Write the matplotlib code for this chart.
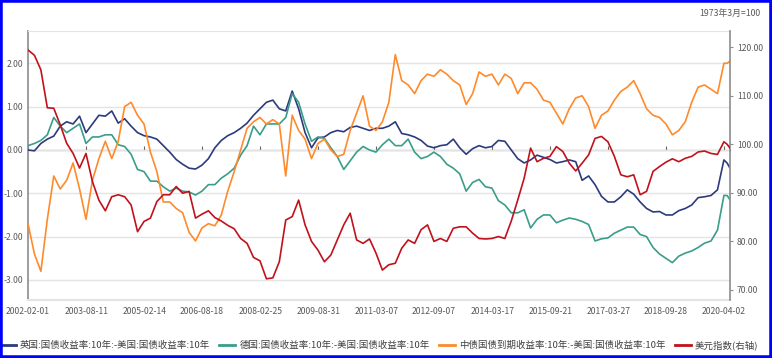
import matplotlib
matplotlib.use('Agg')
import matplotlib.pyplot as plt
from matplotlib.patches import Rectangle
from matplotlib.ticker import FormatStrFormatter
import pandas as pd

plt.rcParams['font.family'] = ['Noto Sans CJK SC', 'DejaVu Sans']
plt.rcParams['axes.unicode_minus'] = False

# ---------------- data ----------------
dates = list(pd.date_range('2002-02-01', '2020-04-01', periods=109)) + \
    [pd.Timestamp('2020-05-01'), pd.Timestamp('2020-05-29')]

uk_us = [0.0, -0.02, 0.15, 0.25, 0.32, 0.55, 0.65, 0.6, 0.78, 0.4, 0.6, 0.8, 0.78, 0.9, 0.62, 0.72, 0.55, 0.4, 0.33,
         0.3, 0.25, 0.1, -0.05, -0.22, -0.33, -0.42, -0.44, -0.35, -0.2, 0.05, 0.22, 0.33, 0.4, 0.5, 0.62, 0.8, 0.95,
         1.1, 1.15, 0.95, 0.9, 1.36, 0.95, 0.4, 0.05, 0.28, 0.3, 0.4, 0.45, 0.42, 0.52, 0.55, 0.5, 0.45, 0.5,
         0.5, 0.55, 0.65, 0.38, 0.35, 0.3, 0.22, 0.09, 0.05, 0.1, 0.12, 0.25, 0.05, -0.1, 0.03, 0.1, 0.05, 0.08,
         0.22, 0.2, 0.0, -0.2, -0.3, -0.23, -0.12, -0.17, -0.22, -0.3, -0.27, -0.23, -0.27, -0.7, -0.6, -0.8, -1.07, -1.2,
         -1.2, -1.08, -0.92, -1.02, -1.2, -1.35, -1.43, -1.42, -1.5, -1.5, -1.4, -1.35, -1.27, -1.1, -1.08, -1.05, -0.92,
         -0.23, -0.3, -0.42]

de_us = [0.1, 0.15, 0.22, 0.35, 0.75, 0.55, 0.4, 0.5, 0.6, 0.15, 0.3, 0.3, 0.35, 0.35, 0.12, 0.08, -0.1, -0.45, -0.5,
         -0.72, -0.72, -0.85, -0.95, -0.88, -0.95, -0.97, -1.04, -0.95, -0.8, -0.8, -0.65, -0.55, -0.42, -0.12, 0.1, 0.55, 0.35,
         0.6, 0.6, 0.6, 0.75, 1.3, 1.1, 0.6, 0.2, 0.3, 0.27, 0.05, -0.15, -0.45, -0.25, -0.05, 0.08, 0.0, -0.05,
         0.12, 0.25, 0.1, 0.1, 0.25, -0.05, -0.2, -0.15, -0.05, -0.15, -0.33, -0.42, -0.55, -0.95, -0.75, -0.68, -0.85, -0.88,
         -1.17, -1.27, -1.45, -1.45, -1.38, -1.8, -1.6, -1.5, -1.5, -1.68, -1.62, -1.57, -1.6, -1.65, -1.72, -2.1, -2.05, -2.03,
         -1.92, -1.85, -1.78, -1.78, -1.95, -2.0, -2.25, -2.4, -2.5, -2.6, -2.45, -2.38, -2.33, -2.25, -2.15, -2.1, -1.85,
         -1.05, -1.05, -1.15]

cn_us = [-1.7, -2.4, -2.8, -1.6, -0.6, -0.9, -0.7, -0.3, -0.9, -1.6, -0.7, -0.2, 0.2, -0.2, 0.2, 1.0, 1.1, 0.8, 0.6,
         -0.05, -0.5, -1.2, -1.2, -1.35, -1.45, -1.9, -2.1, -1.8, -1.7, -1.75, -1.5, -0.95, -0.5, 0.0, 0.5, 0.65, 0.75,
         0.6, 0.7, 0.6, -0.6, 0.8, 0.45, 0.25, -0.2, 0.15, 0.25, 0.0, -0.15, -0.1, 0.45, 0.85, 1.25, 0.55, 0.45,
         0.65, 1.1, 2.2, 1.6, 1.5, 1.3, 1.6, 1.75, 1.7, 1.85, 1.75, 1.6, 1.5, 1.05, 1.3, 1.8, 1.7, 1.75,
         1.5, 1.75, 1.65, 1.3, 1.55, 1.55, 1.4, 1.15, 1.1, 0.85, 0.6, 0.95, 1.2, 1.25, 1.0, 0.5, 0.8, 0.9,
         1.15, 1.35, 1.45, 1.6, 1.3, 0.95, 0.8, 0.75, 0.6, 0.35, 0.45, 0.65, 1.1, 1.45, 1.5, 1.4, 1.3,
         2.0, 2.0, 2.05]

usd_index = [119.4, 118.3, 115.3, 107.5, 107.4, 104.0, 100.2, 98.1, 95.1, 98.1, 92.3, 88.5, 86.3, 89.2, 89.6, 89.2, 87.5, 82.0, 84.1,
             84.8, 88.2, 89.6, 89.6, 91.3, 89.9, 90.3, 84.8, 85.6, 86.3, 84.9, 84.2, 83.3, 82.6, 80.6, 79.6, 76.7, 76.0,
             72.3, 72.5, 75.8, 84.4, 85.1, 88.5, 83.4, 80.0, 78.2, 75.8, 77.2, 80.3, 83.4, 85.8, 80.3, 79.6, 80.5, 77.6,
             74.1, 75.2, 75.5, 78.6, 80.3, 79.6, 82.4, 83.4, 80.0, 80.6, 80.0, 82.7, 83.0, 83.0, 81.7, 80.6, 80.5, 80.6,
             81.0, 80.6, 84.2, 88.5, 93.0, 99.2, 96.4, 97.1, 97.5, 99.5, 98.5, 96.1, 94.5, 96.1, 97.8, 101.2, 101.6, 100.5,
             97.5, 93.7, 93.3, 93.7, 89.6, 90.3, 94.4, 95.4, 96.3, 97.0, 96.4, 97.1, 97.5, 98.4, 98.6, 98.1, 97.9,
             100.5, 100.0, 99.2]

tick_labels = ['2002-02-01', '2003-08-11', '2005-02-14', '2006-08-18', '2008-02-25', '2009-08-31',
               '2011-03-07', '2012-09-07', '2014-03-17', '2015-09-21', '2017-03-27', '2018-09-28', '2020-04-02']

series_names = ['英国:国债收益率:10年:-美国:国债收益率:10年',
                '德国:国债收益率:10年:-美国:国债收益率:10年',
                '中债国债到期收益率:10年:-美国:国债收益率:10年',
                '美元指数(右轴)']
colors = ['#2d3a7c', '#3a9d89', '#ff8a2b', '#c0121c']
note = '1973年3月=100'

# ---------------- figure ----------------
W, H = 772, 358
fig = plt.figure(figsize=(W / 100, H / 100), dpi=100)
ax = fig.add_axes([28 / W, 1 - 300 / H, 702 / W, 269 / H])
ax2 = ax.twinx()

ylim_l = (-3.462, 2.745)
ylim_r = (67.94, 123.3)

lw = 1.2
h1, = ax.plot(dates, uk_us, color=colors[0], lw=lw, zorder=3)
h2, = ax.plot(dates, de_us, color=colors[1], lw=lw, zorder=3)
h3, = ax.plot(dates, cn_us, color=colors[2], lw=lw, zorder=3)
h4, = ax2.plot(dates, usd_index, color=colors[3], lw=lw, zorder=3)

ax.set_xlim(dates[0], dates[-1])
ax.set_ylim(*ylim_l)
ax2.set_ylim(*ylim_r)

fs = 6.2
# left axis
ax.set_yticks([-3, -2, -1, 0, 1, 2])
ax.yaxis.set_major_formatter(FormatStrFormatter('%.2f'))
ax.grid(axis='y', color='#e4e4e4', lw=1.0, zorder=0)
ax.tick_params(axis='y', length=0, pad=3.5, labelsize=fs, labelcolor='#595959')

# right axis
ax2.set_yticks([70, 80, 90, 100, 110, 120])
ax2.yaxis.set_major_formatter(FormatStrFormatter('%.2f'))
ax2.tick_params(axis='y', length=2.5, width=0.8, color='#8c8c8c', pad=2.5,
                labelsize=fs, labelcolor='#595959')

# x axis
tick_dates = pd.to_datetime(tick_labels)
ax.set_xticks(tick_dates)
ax.set_xticklabels(tick_labels)
ax.tick_params(axis='x', length=0, pad=5, labelsize=fs, labelcolor='#595959')

# spines
for s in ['left', 'top', 'bottom']:
    ax2.spines[s].set_visible(False)
ax.spines['right'].set_visible(False)
ax.spines['left'].set_color('#8c8c8c')
ax.spines['left'].set_linewidth(1.2)
ax2.spines['right'].set_color('#8c8c8c')
ax2.spines['right'].set_linewidth(1.2)
ax.spines['top'].set_color('#e4e4e4')
ax.spines['bottom'].set_color('#e4e4e4')
ax.spines['bottom'].set_linewidth(1.5)

# zero line with date ticks
zero_loc = (0 - ylim_l[0]) / (ylim_l[1] - ylim_l[0])
sec = ax.secondary_xaxis(zero_loc)
sec.set_xticks(tick_dates)
sec.set_xticklabels([''] * len(tick_dates))
sec.tick_params(axis='x', length=3, width=0.8, color='#666666', direction='out')
sec.spines['bottom'].set_color('#000000')
sec.spines['bottom'].set_linewidth(1.5)

# note top-right
fig.text(760 / W, 1 - 13 / H, note, ha='right', va='center', fontsize=6.3, color='#595959')

# legend
leg = fig.legend([h1, h2, h3, h4], series_names, loc='center', ncol=4,
                 bbox_to_anchor=(379 / W, 1 - 345 / H), frameon=False,
                 fontsize=6.8, handlelength=1.7, handletextpad=0.4, columnspacing=1.0,
                 labelcolor='#404040')
for l in leg.get_lines():
    l.set_linewidth(2.0)

# blue frame
fig.add_artist(Rectangle((0, 0), 1, 1, transform=fig.transFigure, fill=False,
                         edgecolor='#0000ff', linewidth=4, zorder=10))

fig.savefig('out.png', dpi=100)
